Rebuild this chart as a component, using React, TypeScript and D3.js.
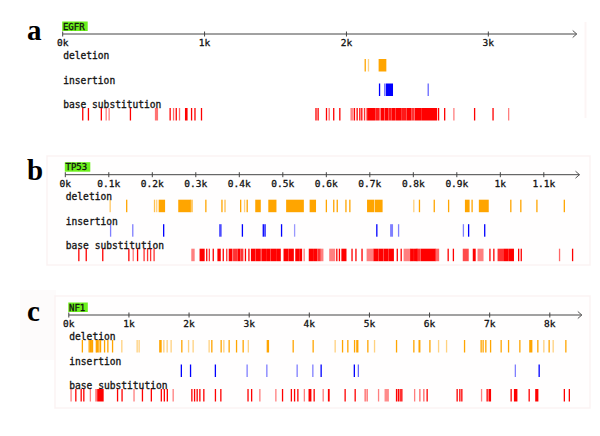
import * as d3 from 'd3';

type Mark = [number, number, number]; // start, end, opacity

// ---- panel a: EGFR ----
const EGFR_MAX = 3623;
const EGFR_TICKS = [0, 1000, 2000, 3000];
const EGFR_DEL: Mark[] = [[2132, 2132, 1], [2155, 2155, 0.5], [2231, 2277, 1]];
const EGFR_INS: Mark[] = [[2233, 2233, 1], [2270, 2270, 0.6], [2282, 2324, 1], [2576, 2576, 0.6]];
const EGFR_SUB: Mark[] = [
  [141, 141, 1], [181, 181, 1], [272, 272, 1], [306, 306, 0.5], [327, 327, 0.5], [477, 477, 1],
  [654, 668, 0.55], [757, 757, 1], [781, 781, 0.6], [800, 800, 1], [823, 823, 0.6], [866, 876, 1],
  [908, 908, 1], [932, 932, 1], [978, 978, 1], [1785, 1785, 1], [1800, 1800, 1], [1859, 1859, 1],
  [1878, 1878, 0.6], [1910, 1910, 1], [1953, 1953, 1], [2033, 2033, 0.6], [2044, 2044, 0.5],
  [2056, 2056, 1], [2075, 2075, 1], [2094, 2094, 1], [2108, 2108, 1], [2127, 2127, 0.8],
  [2141, 2141, 0.5], [2150, 2202, 1], [2212, 2230, 0.9], [2244, 2263, 1], [2273, 2292, 1],
  [2301, 2315, 0.9], [2324, 2343, 1], [2353, 2381, 1], [2390, 2419, 0.9], [2428, 2452, 1],
  [2461, 2475, 0.8], [2485, 2527, 1], [2536, 2635, 1], [2649, 2649, 1], [2692, 2692, 1],
  [2757, 2757, 0.5], [2903, 2903, 1], [3033, 3033, 1], [3143, 3143, 0.5],
];

// ---- panel b: TP53 ----
const TP53_MAX = 1182;
const TP53_TICKS = [0, 100, 200, 300, 400, 500, 600, 700, 800, 900, 1000, 1100];
const TP53_DEL: Mark[] = [
  [103, 103, 0.6], [141, 141, 1], [205, 205, 0.7], [210, 210, 0.5], [216, 228, 1], [261, 287, 1],
  [288, 292, 0.6], [323, 323, 1], [360, 360, 1], [367, 367, 0.7], [403, 403, 1], [412, 412, 0.5],
  [418, 418, 1], [438, 448, 1], [468, 484, 1], [509, 547, 1], [563, 575, 1], [600, 600, 1],
  [617, 617, 1], [625, 625, 1], [645, 645, 1], [654, 654, 1], [695, 709, 1], [713, 728, 1],
  [801, 801, 0.5], [814, 814, 1], [848, 848, 1], [881, 881, 1], [920, 928, 1], [935, 935, 1],
  [952, 972, 1], [1024, 1024, 1], [1047, 1047, 1], [1084, 1084, 1], [1147, 1147, 1],
];
const TP53_INS: Mark[] = [
  [104, 104, 0.5], [155, 155, 0.5], [226, 226, 1], [355, 358, 0.7], [407, 407, 1], [455, 455, 1],
  [459, 459, 1], [497, 497, 1], [527, 527, 0.4], [716, 716, 1], [748, 752, 0.5], [766, 766, 0.5],
  [915, 915, 0.5], [927, 927, 1], [964, 964, 1],
];
const TP53_SUB: Mark[] = [
  [31, 31, 1], [48, 48, 1], [86, 86, 1], [146, 146, 1], [156, 156, 0.5], [166, 166, 1],
  [181, 181, 0.8], [189, 189, 0.8], [196, 196, 0.8], [204, 204, 0.8], [291, 296, 0.5],
  [310, 319, 1], [325, 325, 1], [331, 331, 0.8], [340, 340, 1], [351, 356, 1], [363, 363, 1],
  [371, 371, 0.8], [377, 383, 1], [387, 394, 0.8], [397, 401, 1], [404, 408, 0.8], [414, 414, 1],
  [422, 422, 1], [428, 436, 1], [439, 448, 1], [452, 460, 1], [463, 470, 1], [473, 483, 1],
  [486, 494, 1], [503, 512, 1], [515, 524, 1], [530, 536, 1], [539, 543, 1], [549, 549, 0.5],
  [561, 568, 1], [571, 578, 1], [581, 585, 0.8], [587, 592, 0.5], [608, 619, 0.5], [624, 624, 1],
  [630, 630, 1], [636, 645, 1], [659, 659, 1], [668, 668, 1], [682, 682, 1], [694, 708, 0.5],
  [710, 718, 1], [721, 730, 1], [733, 742, 1], [745, 754, 1], [763, 763, 1], [772, 772, 1],
  [779, 792, 0.5], [794, 800, 1], [803, 808, 1], [809, 815, 0.8], [818, 850, 1], [852, 858, 0.6],
  [880, 880, 1], [892, 892, 1], [915, 926, 0.7], [938, 942, 1], [949, 960, 0.5], [976, 976, 1],
  [985, 985, 1], [995, 1005, 0.8], [1008, 1018, 1], [1021, 1030, 1], [1042, 1042, 1],
  [1048, 1048, 1], [1136, 1136, 0.6], [1166, 1166, 1],
];

// ---- panel c: NF1 ----
const NF1_MAX = 8532;
const NF1_TICKS = [0, 1000, 2000, 3000, 4000, 5000, 6000, 7000, 8000];
const NF1_DEL: Mark[] = [
  [225, 225, 1], [338, 338, 1], [360, 375, 1], [394, 394, 1], [457, 457, 1], [471, 480, 1],
  [500, 500, 1], [527, 527, 1], [594, 594, 1], [649, 649, 1], [727, 727, 1], [881, 881, 0.5],
  [1136, 1136, 0.5], [1169, 1169, 0.5], [1513, 1535, 1], [1580, 1580, 0.5], [1635, 1635, 0.5],
  [1701, 1701, 0.5], [1879, 1879, 1], [1991, 1991, 0.5], [2067, 2067, 0.5], [2333, 2333, 0.5],
  [2378, 2378, 1], [2533, 2533, 1], [2578, 2578, 0.5], [2666, 2666, 1], [2789, 2789, 1],
  [2899, 2899, 1], [2985, 2985, 0.5], [3301, 3321, 1], [3731, 3731, 1], [4063, 4063, 1],
  [4429, 4429, 0.5], [4552, 4552, 1], [4640, 4640, 1], [4752, 4752, 1], [4790, 4807, 1],
  [4973, 4973, 1], [5084, 5084, 0.5], [5450, 5450, 1], [5738, 5738, 1], [5826, 5838, 1],
  [6005, 6005, 1], [6149, 6149, 0.5], [6282, 6282, 0.5], [6581, 6581, 1], [6857, 6857, 1],
  [6890, 6890, 1], [6935, 6935, 1], [7014, 7014, 1], [7190, 7190, 1], [7313, 7313, 1],
  [7501, 7501, 1], [7667, 7700, 1], [7800, 7800, 1], [7900, 7900, 0.5], [7988, 7988, 1],
  [8055, 8055, 0.5], [8266, 8266, 1],
];
const NF1_INS: Mark[] = [
  [1871, 1871, 1], [2024, 2024, 1], [2437, 2437, 1], [2965, 2965, 0.5], [3293, 3293, 0.5],
  [3797, 3797, 0.5], [4058, 4058, 0.5], [4196, 4196, 1], [4748, 4748, 1], [4815, 4815, 0.6],
  [7426, 7426, 0.5], [7822, 7822, 1],
];
const NF1_SUB: Mark[] = [
  [37, 37, 0.5], [116, 116, 1], [205, 205, 1], [249, 249, 1], [358, 358, 0.5], [449, 460, 0.5],
  [482, 570, 1], [810, 810, 1], [885, 885, 1], [1084, 1084, 0.5], [1224, 1224, 1], [1372, 1372, 1],
  [1538, 1538, 1], [1588, 1588, 1], [1638, 1638, 1], [1735, 1735, 0.5], [2046, 2046, 1],
  [2091, 2091, 1], [2134, 2134, 1], [2179, 2179, 1], [2245, 2245, 1], [2438, 2438, 1],
  [2528, 2528, 1], [2980, 2980, 1], [3040, 3040, 1], [3177, 3177, 0.5], [3443, 3443, 0.5],
  [3554, 3554, 1], [3701, 3701, 1], [3754, 3754, 1], [3809, 3809, 1], [3917, 3917, 0.5],
  [3997, 4025, 1], [4080, 4080, 1], [4230, 4230, 0.5], [4319, 4329, 1], [4595, 4595, 1],
  [4762, 4762, 1], [4928, 4928, 0.6], [4961, 4961, 0.6], [5151, 5151, 0.5], [5261, 5314, 0.45],
  [5450, 5450, 1], [5480, 5480, 1], [5510, 5510, 1], [5538, 5538, 1], [5751, 5751, 0.5],
  [5838, 5838, 0.6], [5904, 5904, 0.6], [5959, 5959, 1], [6458, 6458, 1], [6503, 6503, 1],
  [6536, 6536, 1], [6864, 6864, 0.5], [6957, 6957, 1], [6990, 7013, 1], [7356, 7356, 1],
  [7413, 7451, 1], [7656, 7656, 1], [7767, 7800, 1], [8241, 8241, 1], [8324, 8324, 1],
];

const TRACK_NAMES = ['deletion', 'insertion', 'base substitution'];
const TRACK_COLORS = ['#ffa500', '#0000ff', '#ff0000'];
const MONO = '"DejaVu Sans Mono", monospace';

function Panel({ letter, gene, max, ticks, tracks, x0, x1, y }: {
  letter: string; gene: string; max: number; ticks: number[]; tracks: Mark[][];
  x0: number; x1: number; y: number;
}) {
  const x = d3.scaleLinear().domain([0, max]).range([x0, x1]);
  const fmt = (d: number) => `${d / 1000}k`;
  const labelDy = [21.5, 46.5, 70.5];
  const barTop = [25, 49.5, 74];
  const barH = 12.5;
  const txt = { fontFamily: MONO, fill: '#111', stroke: '#111', strokeWidth: 0.3 };
  return (
    <g>
      <text x={27} y={y + 5.5} fontFamily='"Liberation Serif", serif' fontWeight="bold" fontSize={29} fill="#000">{letter}</text>
      <rect x={x0 - 0.5} y={y - 12.5} width={gene.length * 6 + 1.5} height={9.5} fill="#6cf01c" />
      <text x={x0 + 0.2} y={y - 4.5} fontSize={9} {...txt}>{gene}</text>
      <line x1={x0} x2={x1} y1={y} y2={y} stroke="#444" strokeWidth={1} />
      <path d={`M${x1 - 4},${y - 3.5}L${x1},${y}L${x1 - 4},${y + 3.5}`} fill="none" stroke="#555" strokeWidth={1} />
      {ticks.map(t => (
        <g key={t}>
          <line x1={x(t)} x2={x(t)} y1={y - 2.5} y2={y + 2.5} stroke="#444" strokeWidth={1} />
          <text x={x(t)} y={y + 12} textAnchor="middle" fontSize={9.5} {...txt}>{fmt(t)}</text>
        </g>
      ))}
      {TRACK_NAMES.map((name, i) => (
        <text key={name} x={x0 + 0.5} y={y + labelDy[i] + 3.5} fontSize={9.6} {...txt}>{name}</text>
      ))}
      {tracks.map((marks, i) => marks.map((m, j) => (
        <rect key={`${i}-${j}`} x={x(m[0]) - 0.6} y={y + barTop[i]} width={Math.max(1.3, x(m[1]) - x(m[0]) + 1.2)}
          height={barH} fill={TRACK_COLORS[i]} fillOpacity={m[2]} />
      )))}
    </g>
  );
}

export default function App() {
  return (
    <svg width={600} height={436} style={{ position: 'absolute', left: 0, top: 0, background: '#fff' }}>
      <line x1={585.5} x2={585.5} y1={22} y2={118} stroke="#fcf5f5" strokeWidth={2} />
      <rect x={47} y={156} width={543} height={109} fill="#fffefe" stroke="#fbf3f3" strokeWidth={1.5} />
      <rect x={20} y={290} width={36} height={70} fill="#fdfbfb" />
      <rect x={55} y={296} width={535} height={112} fill="#fffefe" stroke="#fbf3f3" strokeWidth={1.5} />
      <Panel letter="a" gene="EGFR" max={EGFR_MAX} ticks={EGFR_TICKS} tracks={[EGFR_DEL, EGFR_INS, EGFR_SUB]} x0={62.7} x1={576.7} y={34} />
      <Panel letter="b" gene="TP53" max={TP53_MAX} ticks={TP53_TICKS} tracks={[TP53_DEL, TP53_INS, TP53_SUB]} x0={65.3} x1={579.5} y={174.7} />
      <Panel letter="c" gene="NF1" max={NF1_MAX} ticks={NF1_TICKS} tracks={[NF1_DEL, NF1_INS, NF1_SUB]} x0={68.8} x1={581.8} y={315} />
    </svg>
  );
}
